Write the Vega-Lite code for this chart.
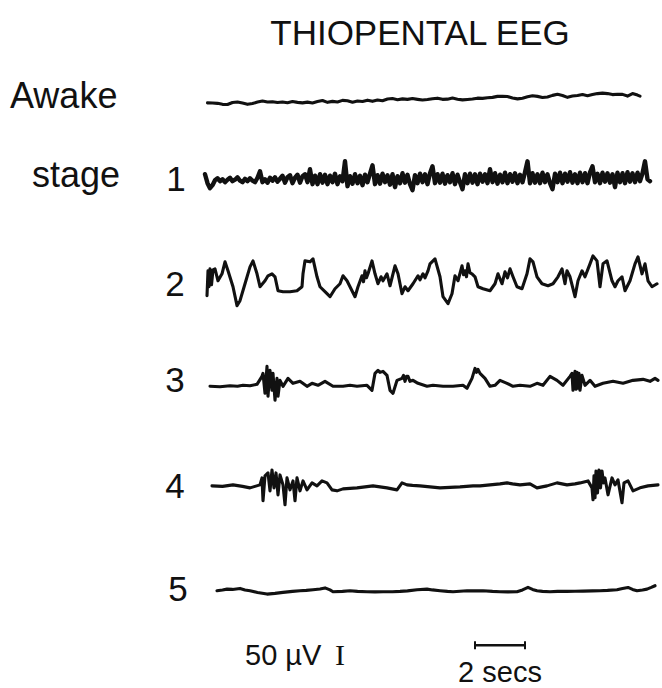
{
"$schema":"https://vega.github.io/schema/vega-lite/v6.json",
"width":662,"height":688,
"autosize":{"type":"fit","contains":"padding"},
"padding":0,
"background":"white",
"config":{"view":{"stroke":null}},
"encoding":{
 "x":{"field":"t","type":"quantitative","scale":{"domain":[-8.2,18.28],"nice":false,"zero":false},"axis":null},
 "y":{"field":"y","type":"quantitative","scale":{"domain":[0,688],"reverse":true,"nice":false,"zero":false},"axis":null}
},
"layer":[
{
"data":{"values":[
{"s":"awake","t":0.1,"y":103.3},{"s":"awake","t":0.3,"y":103.5},{"s":"awake","t":0.5,"y":103.8},{"s":"awake","t":0.7,"y":104.8},{"s":"awake","t":0.9,"y":105.0},{"s":"awake","t":1.1,"y":103.0},{"s":"awake","t":1.3,"y":102.5},{"s":"awake","t":1.5,"y":103.5},{"s":"awake","t":1.7,"y":104.8},{"s":"awake","t":1.9,"y":104.0},{"s":"awake","t":2.1,"y":102.5},{"s":"awake","t":2.3,"y":101.5},{"s":"awake","t":2.5,"y":102.4},{"s":"awake","t":2.7,"y":102.2},{"s":"awake","t":2.9,"y":103.0},{"s":"awake","t":3.1,"y":102.5},{"s":"awake","t":3.3,"y":103.2},{"s":"awake","t":3.5,"y":102.0},{"s":"awake","t":3.7,"y":102.8},{"s":"awake","t":3.9,"y":103.3},{"s":"awake","t":4.1,"y":102.6},{"s":"awake","t":4.3,"y":103.4},{"s":"awake","t":4.5,"y":102.0},{"s":"awake","t":4.7,"y":101.0},{"s":"awake","t":4.9,"y":102.8},{"s":"awake","t":5.1,"y":101.8},{"s":"awake","t":5.3,"y":102.5},{"s":"awake","t":5.5,"y":100.8},{"s":"awake","t":5.7,"y":101.2},{"s":"awake","t":5.9,"y":102.6},{"s":"awake","t":6.1,"y":101.5},{"s":"awake","t":6.3,"y":101.9},{"s":"awake","t":6.5,"y":100.6},{"s":"awake","t":6.7,"y":101.8},{"s":"awake","t":6.9,"y":100.5},{"s":"awake","t":7.1,"y":101.2},{"s":"awake","t":7.3,"y":99.5},{"s":"awake","t":7.5,"y":99.0},{"s":"awake","t":7.7,"y":100.2},{"s":"awake","t":7.9,"y":99.3},{"s":"awake","t":8.1,"y":99.8},{"s":"awake","t":8.3,"y":99.0},{"s":"awake","t":8.5,"y":99.8},{"s":"awake","t":8.7,"y":100.5},{"s":"awake","t":8.9,"y":100.0},{"s":"awake","t":9.1,"y":99.2},{"s":"awake","t":9.3,"y":98.6},{"s":"awake","t":9.5,"y":99.8},{"s":"awake","t":9.7,"y":99.6},{"s":"awake","t":9.9,"y":98.4},{"s":"awake","t":10.1,"y":99.6},{"s":"awake","t":10.3,"y":100.3},{"s":"awake","t":10.5,"y":99.9},{"s":"awake","t":10.7,"y":99.5},{"s":"awake","t":10.9,"y":98.6},{"s":"awake","t":11.1,"y":98.8},{"s":"awake","t":11.3,"y":98.2},{"s":"awake","t":11.5,"y":97.8},{"s":"awake","t":11.7,"y":96.8},{"s":"awake","t":11.9,"y":96.6},{"s":"awake","t":12.1,"y":97.0},{"s":"awake","t":12.3,"y":98.5},{"s":"awake","t":12.5,"y":99.3},{"s":"awake","t":12.7,"y":98.6},{"s":"awake","t":12.9,"y":97.2},{"s":"awake","t":13.1,"y":96.2},{"s":"awake","t":13.3,"y":96.8},{"s":"awake","t":13.5,"y":98.0},{"s":"awake","t":13.7,"y":97.4},{"s":"awake","t":13.9,"y":95.8},{"s":"awake","t":14.1,"y":94.6},{"s":"awake","t":14.3,"y":96.0},{"s":"awake","t":14.5,"y":97.8},{"s":"awake","t":14.7,"y":96.5},{"s":"awake","t":14.9,"y":96.0},{"s":"awake","t":15.1,"y":95.0},{"s":"awake","t":15.3,"y":96.2},{"s":"awake","t":15.5,"y":95.0},{"s":"awake","t":15.7,"y":94.0},{"s":"awake","t":15.9,"y":93.5},{"s":"awake","t":16.1,"y":94.0},{"s":"awake","t":16.3,"y":95.0},{"s":"awake","t":16.5,"y":94.6},{"s":"awake","t":16.7,"y":94.8},{"s":"awake","t":16.9,"y":96.5},{"s":"awake","t":17.1,"y":94.0},{"s":"awake","t":17.3,"y":95.5},{"s":"awake","t":17.4,"y":96.5},
{"s":"s2","t":0.08,"y":297},{"s":"s2","t":0.12,"y":272},{"s":"s2","t":0.16,"y":288},{"s":"s2","t":0.2,"y":270},{"s":"s2","t":0.26,"y":286},{"s":"s2","t":0.32,"y":271},{"s":"s2","t":0.4,"y":270},{"s":"s2","t":0.52,"y":282},{"s":"s2","t":0.68,"y":275},{"s":"s2","t":0.8,"y":263},{"s":"s2","t":0.92,"y":272},{"s":"s2","t":1.12,"y":288},{"s":"s2","t":1.28,"y":307},{"s":"s2","t":1.4,"y":302},{"s":"s2","t":1.6,"y":285},{"s":"s2","t":1.8,"y":268},{"s":"s2","t":1.92,"y":262},{"s":"s2","t":2.08,"y":275},{"s":"s2","t":2.2,"y":288},{"s":"s2","t":2.4,"y":282},{"s":"s2","t":2.52,"y":277},{"s":"s2","t":2.68,"y":275},{"s":"s2","t":2.8,"y":278},{"s":"s2","t":2.92,"y":292},{"s":"s2","t":3.12,"y":293},{"s":"s2","t":3.4,"y":293},{"s":"s2","t":3.68,"y":292},{"s":"s2","t":3.88,"y":288},{"s":"s2","t":3.92,"y":275},{"s":"s2","t":4.0,"y":262},{"s":"s2","t":4.2,"y":263},{"s":"s2","t":4.32,"y":260},{"s":"s2","t":4.48,"y":278},{"s":"s2","t":4.6,"y":288},{"s":"s2","t":4.88,"y":295},{"s":"s2","t":5.0,"y":298},{"s":"s2","t":5.2,"y":290},{"s":"s2","t":5.4,"y":285},{"s":"s2","t":5.52,"y":277},{"s":"s2","t":5.68,"y":282},{"s":"s2","t":5.88,"y":292},{"s":"s2","t":6.0,"y":298},{"s":"s2","t":6.12,"y":288},{"s":"s2","t":6.28,"y":277},{"s":"s2","t":6.34,"y":283},{"s":"s2","t":6.4,"y":272},{"s":"s2","t":6.46,"y":279},{"s":"s2","t":6.52,"y":275},{"s":"s2","t":6.68,"y":262},{"s":"s2","t":6.8,"y":275},{"s":"s2","t":6.92,"y":285},{"s":"s2","t":7.04,"y":278},{"s":"s2","t":7.12,"y":282},{"s":"s2","t":7.28,"y":275},{"s":"s2","t":7.4,"y":287},{"s":"s2","t":7.6,"y":267},{"s":"s2","t":7.72,"y":275},{"s":"s2","t":7.88,"y":295},{"s":"s2","t":8.0,"y":288},{"s":"s2","t":8.12,"y":292},{"s":"s2","t":8.32,"y":285},{"s":"s2","t":8.52,"y":277},{"s":"s2","t":8.6,"y":281},{"s":"s2","t":8.72,"y":275},{"s":"s2","t":8.8,"y":279},{"s":"s2","t":8.92,"y":272},{"s":"s2","t":9.0,"y":265},{"s":"s2","t":9.2,"y":260},{"s":"s2","t":9.4,"y":278},{"s":"s2","t":9.52,"y":298},{"s":"s2","t":9.72,"y":305},{"s":"s2","t":9.88,"y":295},{"s":"s2","t":10.0,"y":277},{"s":"s2","t":10.12,"y":282},{"s":"s2","t":10.28,"y":267},{"s":"s2","t":10.34,"y":276},{"s":"s2","t":10.4,"y":272},{"s":"s2","t":10.46,"y":278},{"s":"s2","t":10.52,"y":265},{"s":"s2","t":10.6,"y":274},{"s":"s2","t":10.68,"y":275},{"s":"s2","t":10.8,"y":278},{"s":"s2","t":10.92,"y":288},{"s":"s2","t":11.12,"y":290},{"s":"s2","t":11.4,"y":292},{"s":"s2","t":11.6,"y":285},{"s":"s2","t":11.72,"y":275},{"s":"s2","t":11.88,"y":285},{"s":"s2","t":12.0,"y":273},{"s":"s2","t":12.1,"y":279},{"s":"s2","t":12.2,"y":270},{"s":"s2","t":12.32,"y":278},{"s":"s2","t":12.48,"y":288},{"s":"s2","t":12.68,"y":290},{"s":"s2","t":12.88,"y":275},{"s":"s2","t":13.0,"y":260},{"s":"s2","t":13.12,"y":263},{"s":"s2","t":13.28,"y":278},{"s":"s2","t":13.48,"y":285},{"s":"s2","t":13.72,"y":287},{"s":"s2","t":13.92,"y":285},{"s":"s2","t":14.12,"y":278},{"s":"s2","t":14.28,"y":270},{"s":"s2","t":14.4,"y":285},{"s":"s2","t":14.48,"y":272},{"s":"s2","t":14.6,"y":278},{"s":"s2","t":14.8,"y":298},{"s":"s2","t":14.92,"y":282},{"s":"s2","t":15.08,"y":272},{"s":"s2","t":15.2,"y":278},{"s":"s2","t":15.4,"y":265},{"s":"s2","t":15.52,"y":257},{"s":"s2","t":15.68,"y":262},{"s":"s2","t":15.8,"y":288},{"s":"s2","t":15.92,"y":265},{"s":"s2","t":16.08,"y":262},{"s":"s2","t":16.28,"y":282},{"s":"s2","t":16.4,"y":288},{"s":"s2","t":16.52,"y":282},{"s":"s2","t":16.68,"y":278},{"s":"s2","t":16.8,"y":292},{"s":"s2","t":17.0,"y":282},{"s":"s2","t":17.2,"y":265},{"s":"s2","t":17.32,"y":258},{"s":"s2","t":17.48,"y":275},{"s":"s2","t":17.6,"y":265},{"s":"s2","t":17.72,"y":282},{"s":"s2","t":17.88,"y":288},{"s":"s2","t":18.08,"y":285},
{"s":"s3","t":0.2,"y":388},{"s":"s3","t":0.6,"y":388.5},{"s":"s3","t":1.0,"y":387.5},{"s":"s3","t":1.3,"y":388},{"s":"s3","t":1.52,"y":387},{"s":"s3","t":1.8,"y":387.5},{"s":"s3","t":2.08,"y":386},{"s":"s3","t":2.28,"y":378},{"s":"s3","t":2.32,"y":375},{"s":"s3","t":2.4,"y":395},{"s":"s3","t":2.48,"y":368},{"s":"s3","t":2.52,"y":398},{"s":"s3","t":2.6,"y":372},{"s":"s3","t":2.68,"y":392},{"s":"s3","t":2.72,"y":375},{"s":"s3","t":2.8,"y":402},{"s":"s3","t":2.88,"y":380},{"s":"s3","t":2.92,"y":398},{"s":"s3","t":3.0,"y":382},{"s":"s3","t":3.12,"y":388},{"s":"s3","t":3.32,"y":380},{"s":"s3","t":3.52,"y":385},{"s":"s3","t":3.8,"y":383},{"s":"s3","t":4.08,"y":388},{"s":"s3","t":4.28,"y":385},{"s":"s3","t":4.52,"y":387},{"s":"s3","t":4.8,"y":383},{"s":"s3","t":5.12,"y":388},{"s":"s3","t":5.52,"y":388},{"s":"s3","t":5.8,"y":387},{"s":"s3","t":6.08,"y":388},{"s":"s3","t":6.48,"y":387},{"s":"s3","t":6.68,"y":392},{"s":"s3","t":6.8,"y":375},{"s":"s3","t":6.92,"y":372},{"s":"s3","t":7.0,"y":374},{"s":"s3","t":7.12,"y":373},{"s":"s3","t":7.28,"y":377},{"s":"s3","t":7.4,"y":392},{"s":"s3","t":7.52,"y":395},{"s":"s3","t":7.68,"y":382},{"s":"s3","t":7.88,"y":380},{"s":"s3","t":7.94,"y":377},{"s":"s3","t":8.0,"y":383},{"s":"s3","t":8.06,"y":378},{"s":"s3","t":8.12,"y":378},{"s":"s3","t":8.2,"y":383},{"s":"s3","t":8.32,"y":382},{"s":"s3","t":8.52,"y":385},{"s":"s3","t":8.88,"y":388},{"s":"s3","t":9.12,"y":387},{"s":"s3","t":9.52,"y":388},{"s":"s3","t":9.92,"y":388},{"s":"s3","t":10.32,"y":387},{"s":"s3","t":10.48,"y":390},{"s":"s3","t":10.68,"y":380},{"s":"s3","t":10.8,"y":370},{"s":"s3","t":10.86,"y":374},{"s":"s3","t":10.92,"y":371},{"s":"s3","t":11.0,"y":375},{"s":"s3","t":11.2,"y":380},{"s":"s3","t":11.4,"y":388},{"s":"s3","t":11.6,"y":387},{"s":"s3","t":11.8,"y":382},{"s":"s3","t":12.08,"y":385},{"s":"s3","t":12.32,"y":388},{"s":"s3","t":12.6,"y":387},{"s":"s3","t":13.0,"y":388},{"s":"s3","t":13.28,"y":385},{"s":"s3","t":13.52,"y":387},{"s":"s3","t":13.8,"y":378},{"s":"s3","t":14.08,"y":382},{"s":"s3","t":14.32,"y":387},{"s":"s3","t":14.6,"y":378},{"s":"s3","t":14.68,"y":375},{"s":"s3","t":14.72,"y":392},{"s":"s3","t":14.8,"y":373},{"s":"s3","t":14.84,"y":391},{"s":"s3","t":14.88,"y":374},{"s":"s3","t":14.92,"y":390},{"s":"s3","t":14.96,"y":375},{"s":"s3","t":15.0,"y":392},{"s":"s3","t":15.08,"y":377},{"s":"s3","t":15.2,"y":387},{"s":"s3","t":15.4,"y":382},{"s":"s3","t":15.6,"y":388},{"s":"s3","t":15.92,"y":385},{"s":"s3","t":16.32,"y":383},{"s":"s3","t":16.72,"y":385},{"s":"s3","t":17.12,"y":382},{"s":"s3","t":17.52,"y":381},{"s":"s3","t":17.8,"y":383},{"s":"s3","t":18.0,"y":380},{"s":"s3","t":18.12,"y":382},
{"s":"s4","t":0.28,"y":488},{"s":"s4","t":0.7,"y":488.5},{"s":"s4","t":1.12,"y":487},{"s":"s4","t":1.5,"y":488.5},{"s":"s4","t":1.8,"y":490},{"s":"s4","t":2.0,"y":488.5},{"s":"s4","t":2.2,"y":487},{"s":"s4","t":2.28,"y":480},{"s":"s4","t":2.32,"y":503},{"s":"s4","t":2.4,"y":478},{"s":"s4","t":2.52,"y":475},{"s":"s4","t":2.6,"y":493},{"s":"s4","t":2.68,"y":472},{"s":"s4","t":2.76,"y":490},{"s":"s4","t":2.84,"y":475},{"s":"s4","t":2.92,"y":497},{"s":"s4","t":3.0,"y":477},{"s":"s4","t":3.12,"y":487},{"s":"s4","t":3.2,"y":507},{"s":"s4","t":3.28,"y":480},{"s":"s4","t":3.4,"y":492},{"s":"s4","t":3.52,"y":483},{"s":"s4","t":3.6,"y":503},{"s":"s4","t":3.68,"y":480},{"s":"s4","t":3.8,"y":493},{"s":"s4","t":3.92,"y":483},{"s":"s4","t":4.08,"y":492},{"s":"s4","t":4.28,"y":485},{"s":"s4","t":4.48,"y":488},{"s":"s4","t":4.68,"y":483},{"s":"s4","t":4.88,"y":485},{"s":"s4","t":5.08,"y":492},{"s":"s4","t":5.28,"y":493},{"s":"s4","t":5.52,"y":491},{"s":"s4","t":5.8,"y":490.5},{"s":"s4","t":6.08,"y":490},{"s":"s4","t":6.4,"y":489},{"s":"s4","t":6.72,"y":488},{"s":"s4","t":7.0,"y":489},{"s":"s4","t":7.28,"y":490},{"s":"s4","t":7.68,"y":492},{"s":"s4","t":7.88,"y":485},{"s":"s4","t":8.08,"y":487},{"s":"s4","t":8.3,"y":487.5},{"s":"s4","t":8.6,"y":488},{"s":"s4","t":9.0,"y":489},{"s":"s4","t":9.4,"y":490},{"s":"s4","t":9.8,"y":489.5},{"s":"s4","t":10.2,"y":489},{"s":"s4","t":10.72,"y":488},{"s":"s4","t":11.0,"y":488},{"s":"s4","t":11.4,"y":487},{"s":"s4","t":11.8,"y":486},{"s":"s4","t":12.08,"y":485},{"s":"s4","t":12.3,"y":486},{"s":"s4","t":12.6,"y":487},{"s":"s4","t":13.0,"y":486},{"s":"s4","t":13.28,"y":490},{"s":"s4","t":13.68,"y":488},{"s":"s4","t":14.08,"y":485},{"s":"s4","t":14.48,"y":487},{"s":"s4","t":14.8,"y":486},{"s":"s4","t":15.0,"y":485},{"s":"s4","t":15.32,"y":483},{"s":"s4","t":15.48,"y":490},{"s":"s4","t":15.52,"y":502},{"s":"s4","t":15.56,"y":478},{"s":"s4","t":15.6,"y":500},{"s":"s4","t":15.64,"y":473},{"s":"s4","t":15.7,"y":495},{"s":"s4","t":15.76,"y":472},{"s":"s4","t":15.82,"y":490},{"s":"s4","t":15.88,"y":473},{"s":"s4","t":15.94,"y":485},{"s":"s4","t":16.0,"y":480},{"s":"s4","t":16.12,"y":497},{"s":"s4","t":16.28,"y":480},{"s":"s4","t":16.4,"y":487},{"s":"s4","t":16.52,"y":482},{"s":"s4","t":16.68,"y":505},{"s":"s4","t":16.76,"y":485},{"s":"s4","t":16.92,"y":483},{"s":"s4","t":17.12,"y":493},{"s":"s4","t":17.4,"y":490},{"s":"s4","t":17.72,"y":488},{"s":"s4","t":18.12,"y":487},
{"s":"s5","t":0.48,"y":593.3},{"s":"s5","t":0.7,"y":592.5},{"s":"s5","t":0.88,"y":591.7},{"s":"s5","t":1.1,"y":592},{"s":"s5","t":1.4,"y":591},{"s":"s5","t":1.6,"y":592.5},{"s":"s5","t":1.8,"y":593.3},{"s":"s5","t":2.1,"y":595},{"s":"s5","t":2.48,"y":596.7},{"s":"s5","t":2.8,"y":596},{"s":"s5","t":3.12,"y":595},{"s":"s5","t":3.5,"y":594},{"s":"s5","t":3.8,"y":593.3},{"s":"s5","t":4.05,"y":593},{"s":"s5","t":4.32,"y":592.3},{"s":"s5","t":4.6,"y":591.5},{"s":"s5","t":4.8,"y":590.5},{"s":"s5","t":5.0,"y":592.5},{"s":"s5","t":5.12,"y":594.3},{"s":"s5","t":5.5,"y":594},{"s":"s5","t":5.8,"y":593.3},{"s":"s5","t":6.1,"y":594},{"s":"s5","t":6.48,"y":594.3},{"s":"s5","t":6.8,"y":594.5},{"s":"s5","t":7.12,"y":594.3},{"s":"s5","t":7.5,"y":594.3},{"s":"s5","t":7.8,"y":594},{"s":"s5","t":8.1,"y":593.5},{"s":"s5","t":8.48,"y":592.3},{"s":"s5","t":8.88,"y":591.7},{"s":"s5","t":9.1,"y":592.5},{"s":"s5","t":9.4,"y":593.3},{"s":"s5","t":9.7,"y":594},{"s":"s5","t":9.92,"y":594.3},{"s":"s5","t":10.2,"y":593.8},{"s":"s5","t":10.48,"y":593.3},{"s":"s5","t":10.8,"y":593.5},{"s":"s5","t":11.12,"y":593.3},{"s":"s5","t":11.5,"y":594},{"s":"s5","t":11.8,"y":594.3},{"s":"s5","t":12.1,"y":594.5},{"s":"s5","t":12.48,"y":594.3},{"s":"s5","t":12.7,"y":592.5},{"s":"s5","t":12.92,"y":590},{"s":"s5","t":13.1,"y":592},{"s":"s5","t":13.28,"y":593.3},{"s":"s5","t":13.5,"y":594},{"s":"s5","t":13.8,"y":594.3},{"s":"s5","t":14.1,"y":594},{"s":"s5","t":14.48,"y":594},{"s":"s5","t":14.8,"y":593.8},{"s":"s5","t":15.12,"y":593.7},{"s":"s5","t":15.5,"y":593.5},{"s":"s5","t":15.8,"y":593.3},{"s":"s5","t":16.1,"y":593},{"s":"s5","t":16.48,"y":592.3},{"s":"s5","t":16.7,"y":591},{"s":"s5","t":16.92,"y":590},{"s":"s5","t":17.1,"y":592},{"s":"s5","t":17.28,"y":593.3},{"s":"s5","t":17.5,"y":592.5},{"s":"s5","t":17.68,"y":591.7},{"s":"s5","t":17.85,"y":590},{"s":"s5","t":18.0,"y":588.3}
]},
"mark":{"type":"line","color":"#111111","strokeWidth":3.1,"strokeJoin":"round","strokeCap":"round"},
"encoding":{"detail":{"field":"s","type":"nominal"}}
},
{
"data":{"values":[
{"s":"s1","t":0.0,"y":175},{"s":"s1","t":0.1,"y":184},{"s":"s1","t":0.2,"y":189},{"s":"s1","t":0.3,"y":186},{"s":"s1","t":0.4,"y":181},{"s":"s1","t":0.5,"y":179},{"s":"s1","t":0.6,"y":182},{"s":"s1","t":0.7,"y":180},{"s":"s1","t":0.8,"y":183},{"s":"s1","t":0.9,"y":180.5},{"s":"s1","t":1.0,"y":178.5},{"s":"s1","t":1.1,"y":182},{"s":"s1","t":1.2,"y":180.5},{"s":"s1","t":1.3,"y":178},{"s":"s1","t":1.4,"y":181.5},{"s":"s1","t":1.5,"y":183},{"s":"s1","t":1.6,"y":179.5},{"s":"s1","t":1.7,"y":182},{"s":"s1","t":1.8,"y":179},{"s":"s1","t":1.9,"y":181.5},{"s":"s1","t":2.0,"y":183},{"s":"s1","t":2.1,"y":178.5},{"s":"s1","t":2.2,"y":172},{"s":"s1","t":2.3,"y":183},{"s":"s1","t":2.4,"y":180},{"s":"s1","t":2.5,"y":183.5},{"s":"s1","t":2.6,"y":178.5},{"s":"s1","t":2.7,"y":181.5},{"s":"s1","t":2.8,"y":178},{"s":"s1","t":2.9,"y":182.5},{"s":"s1","t":3.0,"y":179.5},{"s":"s1","t":3.1,"y":176.5},{"s":"s1","t":3.2,"y":183.5},{"s":"s1","t":3.3,"y":178},{"s":"s1","t":3.4,"y":176},{"s":"s1","t":3.5,"y":184},{"s":"s1","t":3.6,"y":178.5},{"s":"s1","t":3.7,"y":175.5},{"s":"s1","t":3.8,"y":183.5},{"s":"s1","t":3.9,"y":177},{"s":"s1","t":4.0,"y":175},{"s":"s1","t":4.1,"y":183},{"s":"s1","t":4.2,"y":170},{"s":"s1","t":4.3,"y":185},{"s":"s1","t":4.4,"y":176.5},{"s":"s1","t":4.5,"y":185},{"s":"s1","t":4.6,"y":175},{"s":"s1","t":4.7,"y":183.5},{"s":"s1","t":4.8,"y":175.5},{"s":"s1","t":4.9,"y":185},{"s":"s1","t":5.0,"y":176.5},{"s":"s1","t":5.1,"y":183},{"s":"s1","t":5.2,"y":174.5},{"s":"s1","t":5.3,"y":185},{"s":"s1","t":5.4,"y":177},{"s":"s1","t":5.5,"y":182},{"s":"s1","t":5.6,"y":162},{"s":"s1","t":5.7,"y":187},{"s":"s1","t":5.8,"y":177},{"s":"s1","t":5.9,"y":184.5},{"s":"s1","t":6.0,"y":175},{"s":"s1","t":6.1,"y":184},{"s":"s1","t":6.2,"y":176.5},{"s":"s1","t":6.3,"y":186},{"s":"s1","t":6.4,"y":175.5},{"s":"s1","t":6.5,"y":183},{"s":"s1","t":6.6,"y":174.5},{"s":"s1","t":6.7,"y":166},{"s":"s1","t":6.8,"y":185},{"s":"s1","t":6.9,"y":176},{"s":"s1","t":7.0,"y":184.5},{"s":"s1","t":7.1,"y":174.5},{"s":"s1","t":7.2,"y":183},{"s":"s1","t":7.3,"y":176},{"s":"s1","t":7.4,"y":185.5},{"s":"s1","t":7.5,"y":175},{"s":"s1","t":7.6,"y":188},{"s":"s1","t":7.7,"y":177},{"s":"s1","t":7.8,"y":184},{"s":"s1","t":7.9,"y":174},{"s":"s1","t":8.0,"y":183.5},{"s":"s1","t":8.1,"y":175.5},{"s":"s1","t":8.2,"y":185},{"s":"s1","t":8.3,"y":191},{"s":"s1","t":8.4,"y":176},{"s":"s1","t":8.5,"y":184},{"s":"s1","t":8.6,"y":174.5},{"s":"s1","t":8.7,"y":183},{"s":"s1","t":8.8,"y":175},{"s":"s1","t":8.9,"y":185},{"s":"s1","t":9.0,"y":174},{"s":"s1","t":9.1,"y":167},{"s":"s1","t":9.2,"y":184},{"s":"s1","t":9.3,"y":175},{"s":"s1","t":9.4,"y":183.5},{"s":"s1","t":9.5,"y":174.5},{"s":"s1","t":9.6,"y":184.5},{"s":"s1","t":9.7,"y":176},{"s":"s1","t":9.8,"y":183},{"s":"s1","t":9.9,"y":174},{"s":"s1","t":10.0,"y":185},{"s":"s1","t":10.1,"y":175.5},{"s":"s1","t":10.2,"y":183},{"s":"s1","t":10.3,"y":190},{"s":"s1","t":10.4,"y":175},{"s":"s1","t":10.5,"y":184},{"s":"s1","t":10.6,"y":174.5},{"s":"s1","t":10.7,"y":183.5},{"s":"s1","t":10.8,"y":175},{"s":"s1","t":10.9,"y":185},{"s":"s1","t":11.0,"y":174.5},{"s":"s1","t":11.1,"y":182.5},{"s":"s1","t":11.2,"y":175},{"s":"s1","t":11.3,"y":184},{"s":"s1","t":11.4,"y":170},{"s":"s1","t":11.5,"y":183},{"s":"s1","t":11.6,"y":174},{"s":"s1","t":11.7,"y":184.5},{"s":"s1","t":11.8,"y":175.5},{"s":"s1","t":11.9,"y":183},{"s":"s1","t":12.0,"y":173.5},{"s":"s1","t":12.1,"y":184},{"s":"s1","t":12.2,"y":175},{"s":"s1","t":12.3,"y":182.5},{"s":"s1","t":12.4,"y":174},{"s":"s1","t":12.5,"y":184},{"s":"s1","t":12.6,"y":175.5},{"s":"s1","t":12.7,"y":183},{"s":"s1","t":12.8,"y":173},{"s":"s1","t":12.9,"y":162},{"s":"s1","t":13.0,"y":184},{"s":"s1","t":13.1,"y":174},{"s":"s1","t":13.2,"y":183.5},{"s":"s1","t":13.3,"y":175},{"s":"s1","t":13.4,"y":184},{"s":"s1","t":13.5,"y":173.5},{"s":"s1","t":13.6,"y":183},{"s":"s1","t":13.7,"y":175},{"s":"s1","t":13.8,"y":184},{"s":"s1","t":13.9,"y":190},{"s":"s1","t":14.0,"y":174.5},{"s":"s1","t":14.1,"y":183},{"s":"s1","t":14.2,"y":173.5},{"s":"s1","t":14.3,"y":184},{"s":"s1","t":14.4,"y":174.5},{"s":"s1","t":14.5,"y":182.5},{"s":"s1","t":14.6,"y":173},{"s":"s1","t":14.7,"y":183.5},{"s":"s1","t":14.8,"y":175},{"s":"s1","t":14.9,"y":184},{"s":"s1","t":15.0,"y":173.5},{"s":"s1","t":15.1,"y":183},{"s":"s1","t":15.2,"y":174},{"s":"s1","t":15.3,"y":184},{"s":"s1","t":15.4,"y":173},{"s":"s1","t":15.5,"y":167},{"s":"s1","t":15.6,"y":183},{"s":"s1","t":15.7,"y":174.5},{"s":"s1","t":15.8,"y":184},{"s":"s1","t":15.9,"y":173.5},{"s":"s1","t":16.0,"y":182.5},{"s":"s1","t":16.1,"y":174},{"s":"s1","t":16.2,"y":183.5},{"s":"s1","t":16.3,"y":175},{"s":"s1","t":16.4,"y":188},{"s":"s1","t":16.5,"y":173.5},{"s":"s1","t":16.6,"y":183},{"s":"s1","t":16.7,"y":174},{"s":"s1","t":16.8,"y":184},{"s":"s1","t":16.9,"y":173},{"s":"s1","t":17.0,"y":182.5},{"s":"s1","t":17.1,"y":174},{"s":"s1","t":17.2,"y":183},{"s":"s1","t":17.3,"y":173.5},{"s":"s1","t":17.4,"y":182},{"s":"s1","t":17.5,"y":174},{"s":"s1","t":17.6,"y":162},{"s":"s1","t":17.7,"y":180},{"s":"s1","t":17.8,"y":182}
]},
"mark":{"type":"line","color":"#111111","strokeWidth":4.4,"strokeJoin":"round","strokeCap":"round"},
"encoding":{"detail":{"field":"s","type":"nominal"}}
},
{
"data":{"values":[{"t":10.8,"t2":12.8,"y":648}]},
"mark":{"type":"rule","color":"#111111","strokeWidth":2.5},
"encoding":{"x2":{"field":"t2"}}
},
{
"data":{"values":[{"t":10.8,"y":644,"y2":652},{"t":12.8,"y":644,"y2":652}]},
"mark":{"type":"rule","color":"#111111","strokeWidth":2},
"encoding":{"y2":{"field":"y2"}}
},
{
"data":{"values":[{"label":"THIOPENTAL EEG","t":8.6,"y":45}]},
"mark":{"type":"text","font":"Liberation Sans","fontSize":35,"align":"center","baseline":"alphabetic","color":"#111111"},
"encoding":{"text":{"field":"label"}}
},
{
"data":{"values":[{"label":"Awake","t":-7.8,"y":108},{"label":"stage","t":-6.92,"y":188}]},
"mark":{"type":"text","font":"Liberation Sans","fontSize":36,"align":"left","baseline":"alphabetic","color":"#111111"},
"encoding":{"text":{"field":"label"}}
},
{
"data":{"values":[{"label":"1","t":-1.16,"y":192},{"label":"2","t":-1.2,"y":297},{"label":"3","t":-1.2,"y":394},{"label":"4","t":-1.2,"y":500},{"label":"5","t":-1.08,"y":604}]},
"mark":{"type":"text","font":"Liberation Sans","fontSize":35,"align":"center","baseline":"alphabetic","color":"#111111"},
"encoding":{"text":{"field":"label"}}
},
{
"data":{"values":[{"label":"50 µV","t":1.6,"y":668}]},
"mark":{"type":"text","font":"Liberation Sans","fontSize":29,"align":"left","baseline":"alphabetic","color":"#111111"},
"encoding":{"text":{"field":"label"}}
},
{
"data":{"values":[{"label":"I","t":5.4,"y":668}]},
"mark":{"type":"text","font":"Liberation Serif","fontSize":30,"align":"center","baseline":"alphabetic","color":"#111111"},
"encoding":{"text":{"field":"label"}}
},
{
"data":{"values":[{"label":"2 secs","t":11.8,"y":685}]},
"mark":{"type":"text","font":"Liberation Sans","fontSize":29,"align":"center","baseline":"alphabetic","color":"#111111"},
"encoding":{"text":{"field":"label"}}
}
]
}
